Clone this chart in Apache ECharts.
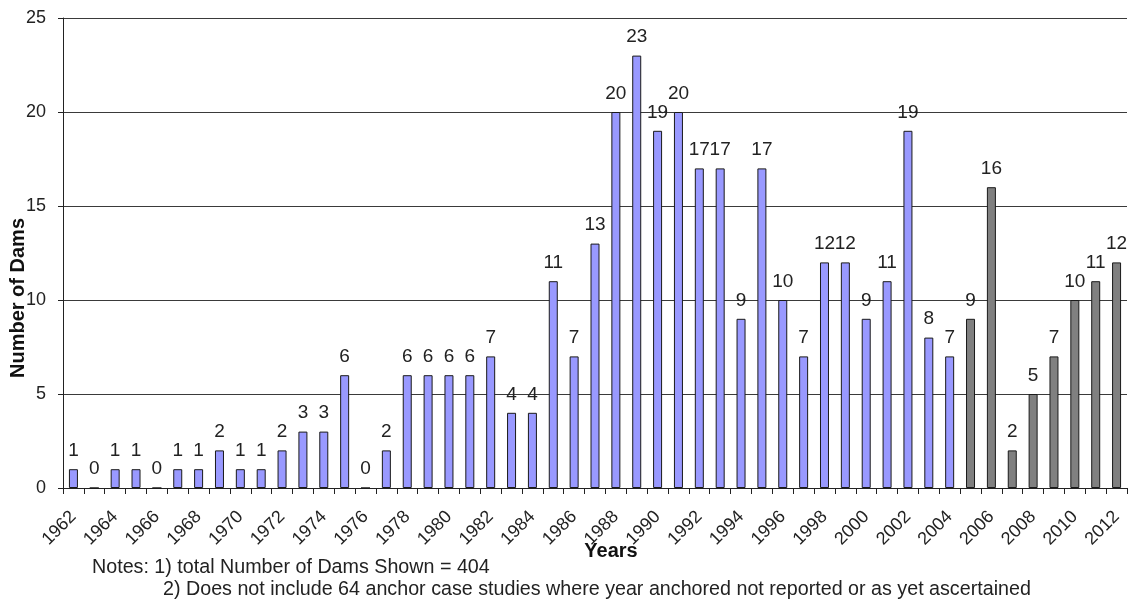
<!DOCTYPE html>
<html>
<head>
<meta charset="utf-8">
<script src="https://cdn.jsdelivr.net/npm/echarts@6/dist/echarts.min.js"></script>
<style>
html,body{margin:0;padding:0;background:#fff;}
#chart{width:1128px;height:604px;}
</style>
</head>
<body>
<div id="chart"></div>
<script>
const years = [];
for (let y = 1962; y <= 2012; y++) years.push(String(y));
const counts = [1,0,1,1,0,1,1,2,1,1,
                2,3,3,6,0,2,6,6,6,6,
                7,4,4,11,7,13,20,23,19,20,
                17,17,9,17,10,7,12,12,9,11,
                19,8,7,9,16,2,5,7,10,11,12];
const grayFromYear = '2005';
const yTicks = [0,5,10,15,20,25];
const xTitle = 'Years';
const yTitle = 'Number of Dams';
const notes = ['Notes: 1) total Number of Dams Shown = 404',
               '2) Does not include 64 anchor case studies where year anchored not reported or as yet ascertained'];

const grayIdx = years.indexOf(grayFromYear);
const data = counts.map((v, i) => ({
  value: v,
  itemStyle: { color: i >= grayIdx ? '#808080' : '#9999FF', borderColor: '#1a1a1a', borderWidth: 1 }
}));

const chart = echarts.init(document.getElementById('chart'));
const font = 'Liberation Sans, Arial, sans-serif';
chart.setOption({
  animation: false,
  grid: { left: 63, right: 1, top: 18, bottom: 116, containLabel: false },
  xAxis: {
    type: 'category',
    data: years,
    boundaryGap: true,
    axisLine: { lineStyle: { color: '#222', width: 1 } },
    axisTick: { show: true, interval: 0, length: 6, lineStyle: { color: '#222' } },
    axisLabel: { interval: 1, rotate: 45, fontFamily: font, fontSize: 18, color: '#222', margin: 26 }
  },
  yAxis: {
    type: 'value',
    min: yTicks[0],
    max: yTicks[yTicks.length - 1],
    interval: 5,
    axisLine: { show: true, lineStyle: { color: '#222', width: 1 } },
    axisTick: { show: true, length: 5, lineStyle: { color: '#222' } },
    axisLabel: { fontFamily: font, fontSize: 18, color: '#222', margin: 17 },
    splitLine: { show: true, lineStyle: { color: '#3a3a3a', width: 1 } }
  },
  series: [{
    type: 'bar',
    data: data,
    barWidth: 9,
    label: { show: true, position: 'top', distance: 9, fontFamily: font, fontSize: 19, color: '#222' }
  }],
  graphic: [
    { type: 'text', x: 611, y: 551, style: { text: xTitle, font: 'bold 20px ' + font, fill: '#111', align: 'center', verticalAlign: 'middle' } },
    { type: 'text', x: 18, y: 298, rotation: Math.PI / 2, style: { text: yTitle, font: 'bold 20px ' + font, fill: '#111', align: 'center', verticalAlign: 'middle' } },
    { type: 'text', left: 92, top: 558, style: { text: notes[0], font: '19.7px ' + font, fill: '#222' } },
    { type: 'text', left: 163, top: 580, style: { text: notes[1], font: '19.7px ' + font, fill: '#222' } }
  ]
});
</script>
</body>
</html>
